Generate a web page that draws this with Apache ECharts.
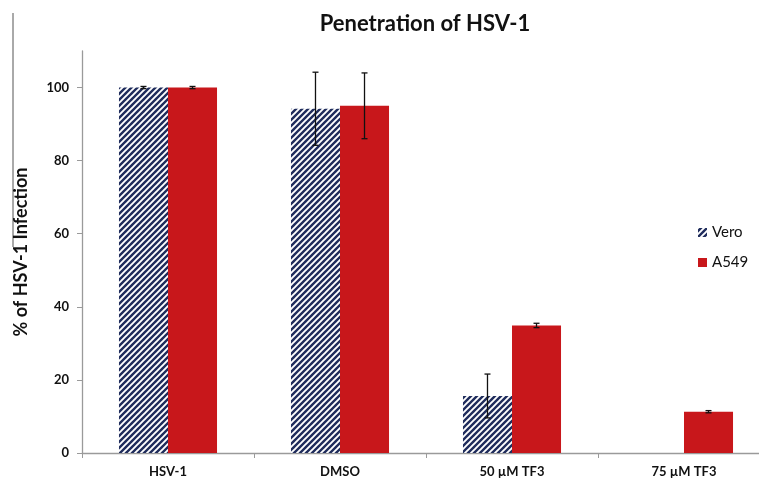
<!DOCTYPE html>
<html>
<head>
<meta charset="utf-8">
<script src="https://cdn.jsdelivr.net/npm/echarts@6/dist/echarts.min.js"></script>
<style>
  html, body { margin: 0; padding: 0; background: #fff; }
  #chart { width: 759px; height: 482px; }
</style>
</head>
<body>
<div id="chart"></div>
<script>
const categories = ['HSV-1', 'DMSO', '50 µM TF3', '75 µM TF3'];
const veroValues = [100, 94.2, 15.6, 0];
const veroErrors = [0.3, 10, 6, null];
const a549Values = [100, 95, 34.9, 11.3];
const a549Errors = [0.3, 9, 0.6, 0.3];
const yTicks = [0, 20, 40, 60, 80, 100];

// diagonal hatch for Vero bars
function hatch() {
  const s = 6;
  const c = document.createElement('canvas');
  c.width = s; c.height = s;
  const ctx = c.getContext('2d');
  ctx.fillStyle = '#1f2c5c';
  ctx.fillRect(0, 0, s, s);
  ctx.strokeStyle = '#ffffff';
  ctx.lineWidth = 1.9;
  ctx.beginPath();
  for (let k = -1; k <= 1; k++) {
    ctx.moveTo(k * s - 1, s + 1);
    ctx.lineTo(k * s + s + 1, -1);
  }
  ctx.stroke();
  return c;
}

const BAR_FRAC = 0.285;

function errorSeries(values, errors, side) {
  return {
    type: 'custom',
    silent: true,
    z: 10,
    data: values.map((v, i) => [i, v, errors[i]]),
    renderItem: function (params, api) {
      const err = api.value(2);
      if (err === null || isNaN(err)) return;
      const idx = api.value(0), v = api.value(1);
      const band = api.size([1, 0])[0];
      const dx = side * band * BAR_FRAC / 2;
      const top = api.coord([idx, v + err]);
      const bot = api.coord([idx, v - err]);
      const x = top[0] + dx;
      const cap = 3;
      const style = { stroke: '#111', lineWidth: 1.3 };
      return {
        type: 'group',
        children: [
          { type: 'line', shape: { x1: x, y1: top[1], x2: x, y2: bot[1] }, style: style },
          { type: 'line', shape: { x1: x - cap, y1: top[1], x2: x + cap, y2: top[1] }, style: style },
          { type: 'line', shape: { x1: x - cap, y1: bot[1], x2: x + cap, y2: bot[1] }, style: style }
        ]
      };
    }
  };
}

const chart = echarts.init(document.getElementById('chart'));
const font = 'Lato, "Open Sans", sans-serif';

chart.setOption({
  animation: false,
  textStyle: { fontFamily: font },
  title: {
    text: 'Penetration of HSV-1',
    left: 420, top: 8, textAlign: 'center',
    textStyle: { fontFamily: font, fontSize: 22, fontWeight: 'bold', color: '#111' }
  },
  legend: {
    orient: 'vertical',
    left: 693, top: 220,
    itemWidth: 9, itemHeight: 9, itemGap: 15,
    textStyle: { fontFamily: font, fontSize: 15, color: '#111' },
    data: [{ name: 'Vero', icon: 'rect' }, { name: 'A549', icon: 'rect' }]
  },
  grid: { left: 82, width: 688, top: 51, bottom: 29, outerBoundsMode: 'none', containLabel: false },
  xAxis: {
    type: 'category',
    data: categories,
    axisLine: { lineStyle: { color: '#9a9a9a', width: 1.3 } },
    axisTick: { show: true, length: 5, lineStyle: { color: '#9a9a9a' } },
    axisLabel: { margin: 12, fontFamily: font, fontSize: 13, fontWeight: 'bold', color: '#111' }
  },
  yAxis: {
    type: 'value',
    min: 0, max: 110, interval: 20,
    name: '% of HSV-1 Infection',
    nameLocation: 'middle',
    nameGap: 52,
    nameTextStyle: { fontFamily: font, fontSize: 18, fontWeight: 'bold', color: '#111' },
    splitLine: { show: false },
    axisLine: { show: true, lineStyle: { color: '#9a9a9a', width: 1.3 } },
    axisTick: { show: true, length: 5, customValues: yTicks, lineStyle: { color: '#9a9a9a' } },
    axisLabel: { margin: 13, customValues: yTicks, fontFamily: font, fontSize: 13, fontWeight: 'bold', color: '#111' }
  },
  graphic: [{
    type: 'line', silent: true,
    shape: { x1: 13, y1: 13, x2: 13, y2: 247 },
    style: { stroke: '#555', lineWidth: 1 }
  }],
  series: [
    {
      name: 'Vero', type: 'bar', data: veroValues,
      barWidth: (BAR_FRAC * 100) + '%', barGap: '0%',
      itemStyle: { color: { image: hatch(), repeat: 'repeat' } }
    },
    {
      name: 'A549', type: 'bar', data: a549Values,
      barWidth: (BAR_FRAC * 100) + '%', barGap: '0%',
      itemStyle: { color: '#c8171b' }
    },
    errorSeries(veroValues, veroErrors, -1),
    errorSeries(a549Values, a549Errors, 1)
  ]
});
</script>
</body>
</html>
